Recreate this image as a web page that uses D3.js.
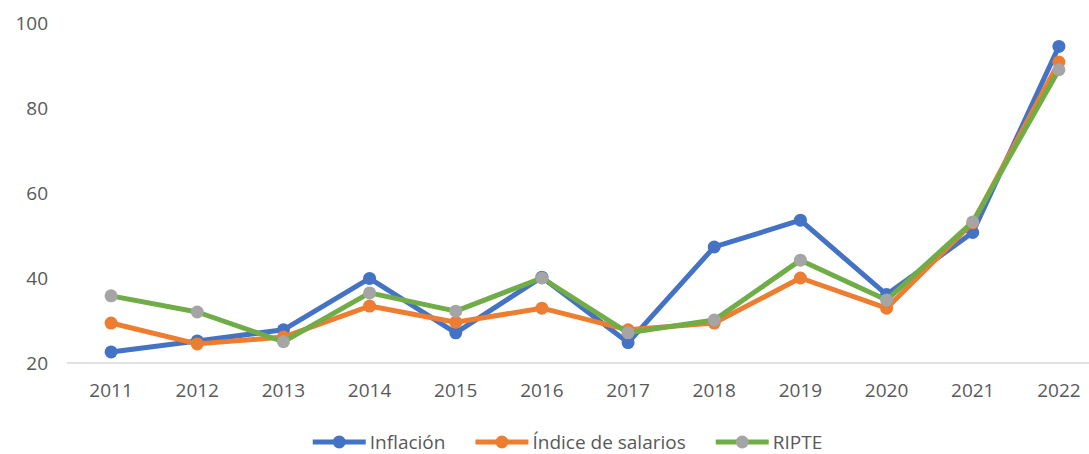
<!DOCTYPE html>
<html>
<head>
<meta charset="utf-8">
<script src="https://cdn.jsdelivr.net/npm/d3@7/dist/d3.min.js"></script>
<style>
  html, body { margin: 0; padding: 0; background: #ffffff; }
  svg { display: block; }
  text { font-family: "Open Sans", "Noto Sans", sans-serif; fill: #595959; }
</style>
</head>
<body>
<svg id="chart" width="1089" height="454"></svg>
<script>
const years = ["2011","2012","2013","2014","2015","2016","2017","2018","2019","2020","2021","2022"];
const inflacion = [22.6, 25.2, 27.8, 39.9, 27.1, 40.2, 24.8, 47.3, 53.6, 36.1, 50.7, 94.5];
const indiceSalarios = [29.4, 24.5, 26.1, 33.4, 29.6, 32.9, 27.8, 29.4, 40.0, 32.9, 53.0, 90.8];
const ripte = [35.8, 32.0, 25.0, 36.5, 32.2, 40.0, 27.1, 30.1, 44.2, 34.8, 53.2, 89.0];
const yTicks = [20, 40, 60, 80, 100];
const seriesNames = ["Inflación", "Índice de salarios", "RIPTE"];

const series = [
  { name: seriesNames[0], values: inflacion, line: "#4472C4", marker: "#4472C4" },
  { name: seriesNames[1], values: indiceSalarios, line: "#ED7D31", marker: "#ED7D31" },
  { name: seriesNames[2], values: ripte, line: "#70AD47", marker: "#A5A5A5" }
];

const FS = "19px";
const svg = d3.select("#chart");
const x = d3.scaleBand().domain(years).range([68, 1102]).padding(0);
const y = d3.scaleLinear().domain([20, 100]).range([363, 23]);
const cx = d => x(d) + x.bandwidth() / 2;

// baseline axis line
svg.append("line")
  .attr("x1", x.range()[0] - 1).attr("x2", x.range()[1])
  .attr("y1", y(20)).attr("y2", y(20))
  .attr("stroke", "#D9D9D9").attr("stroke-width", 1.3);

// y axis labels
const yAxis = d3.axisLeft(y).tickValues(yTicks).tickSize(0).tickPadding(0);
const gy = svg.append("g").attr("transform", "translate(48,0)").call(yAxis);
gy.select(".domain").remove();
gy.selectAll("text").style("font-size", FS).attr("fill", "#595959")
  .style("font-family", "'Open Sans', sans-serif");

// x axis labels
const xAxis = d3.axisBottom(x).tickSize(0).tickPadding(0);
const gx = svg.append("g").attr("transform", "translate(0,383)").call(xAxis);
gx.select(".domain").remove();
gx.selectAll("text").style("font-size", FS).attr("fill", "#595959")
  .style("font-family", "'Open Sans', sans-serif");

const line = d3.line().x((d, i) => cx(years[i])).y(d => y(d));

series.forEach(s => {
  const g = svg.append("g");
  g.append("path").datum(s.values)
    .attr("d", line)
    .attr("fill", "none")
    .attr("stroke", s.line)
    .attr("stroke-width", 5)
    .attr("stroke-linejoin", "round")
    .attr("stroke-linecap", "round");
  g.selectAll("circle").data(s.values).join("circle")
    .attr("cx", (d, i) => cx(years[i]))
    .attr("cy", d => y(d))
    .attr("r", 6.5)
    .attr("fill", s.marker);
});

// legend
const legY = 442;
const legend = svg.append("g");
const items = [];
series.forEach(s => {
  const g = legend.append("g");
  g.append("line").attr("x1", 0).attr("x2", 53).attr("y1", 0).attr("y2", 0)
    .attr("stroke", s.line).attr("stroke-width", 5);
  g.append("circle").attr("cx", 26.5).attr("cy", 0).attr("r", 6.5).attr("fill", s.marker);
  const t = g.append("text").attr("x", 57).attr("y", 0).attr("dy", "0.35em")
    .style("font-size", FS).text(s.name);
  items.push({ g, w: 57 + t.node().getComputedTextLength() });
});
const gap = 30;
const total = d3.sum(items, d => d.w) + gap * (items.length - 1);
let start = 567.5 - total / 2;
items.forEach(it => {
  it.g.attr("transform", `translate(${start},${legY})`);
  start += it.w + gap;
});
</script>
</body>
</html>
